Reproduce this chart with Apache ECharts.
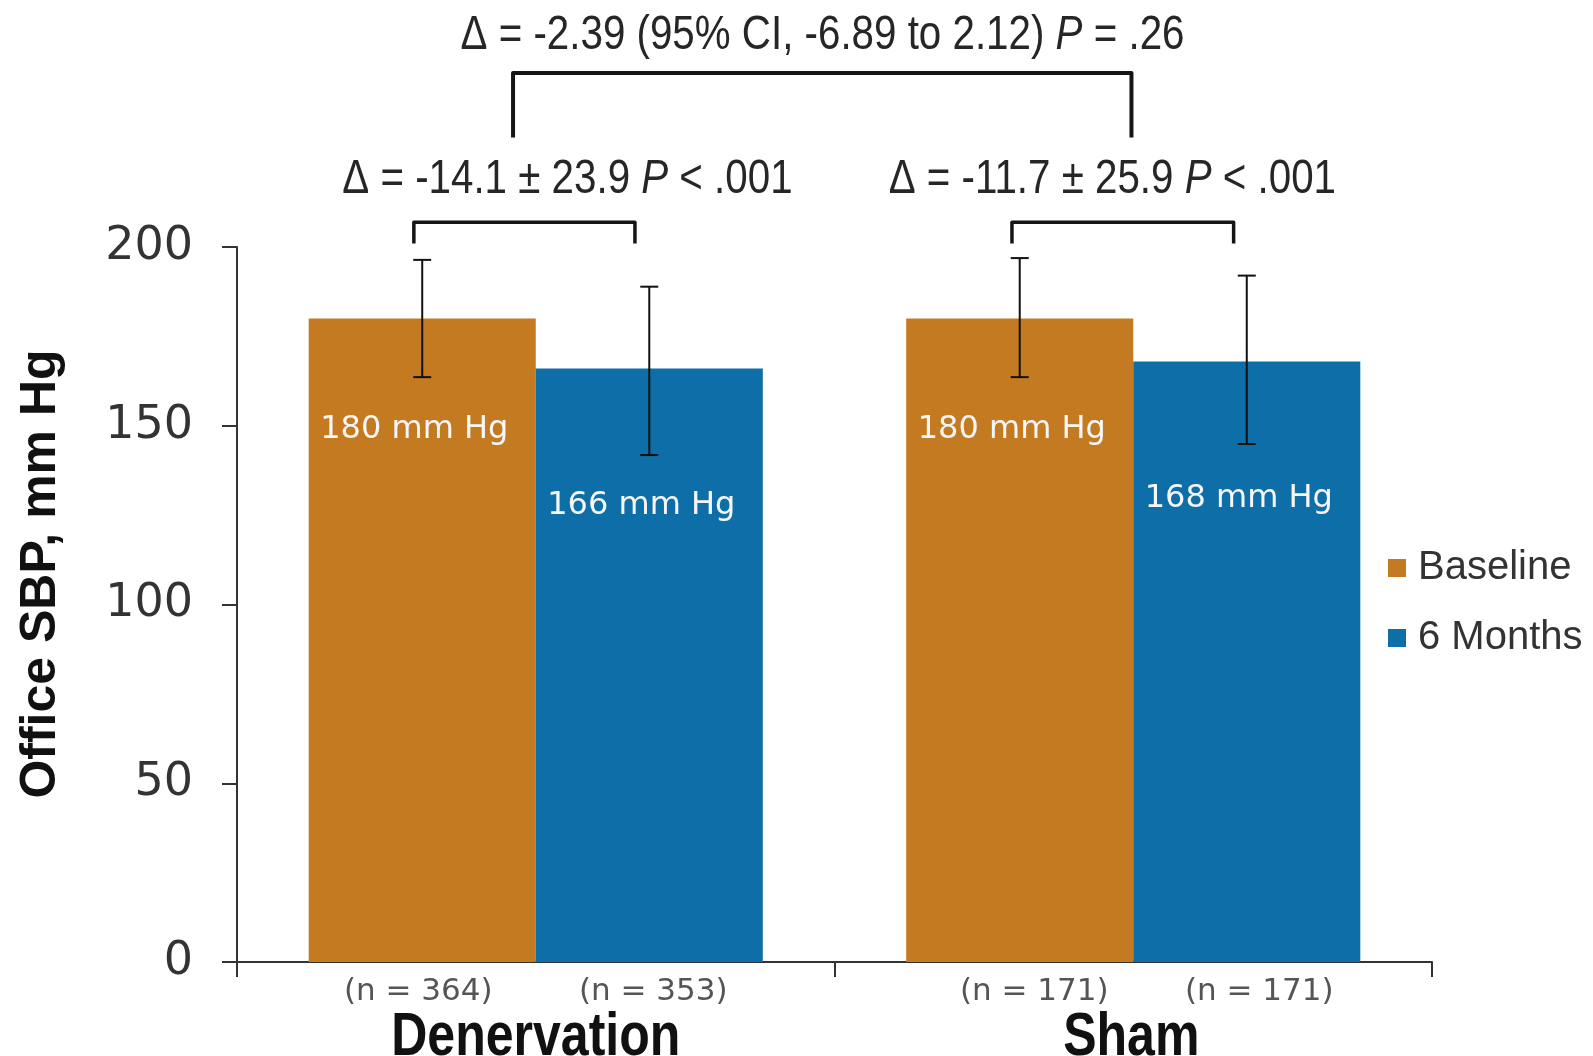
<!DOCTYPE html>
<html>
<head>
<meta charset="utf-8">
<script src="https://cdn.jsdelivr.net/npm/echarts@6/dist/echarts.min.js"></script>
<style>
html,body{margin:0;padding:0;background:#fff;}
#c{width:1593px;height:1056px;}
</style>
</head>
<body>
<div id="c"></div>
<script>
// ---- data ----
const categories = ['Denervation', 'Sham'];
const seriesNames = ['Baseline', '6 Months'];
const baselineValues = [180, 180];
const monthValues = [166, 168];
const baselineErrLow = [163.6, 163.6];
const baselineErrHigh = [196.4, 196.9];
const monthErrLow = [141.8, 144.9];
const monthErrHigh = [188.9, 192.0];
const baselineN = [364, 171];
const monthN = [353, 171];
const yTicks = [0, 50, 100, 150, 200];
const groupDiffText = ['Δ = -14.1 ± 23.9 ', ' < .001'];
const groupDiffText2 = ['Δ = -11.7 ± 25.9 ', ' < .001'];
const overallDiffText = ['Δ = -2.39 (95% CI, -6.89 to 2.12) ', ' = .26'];
const yAxisTitle = 'Office SBP, mm Hg';

// ---- styles ----
const ORANGE = '#C47A20';
const BLUE = '#0E6EA8';
const AXIS = '#333333';
const SANS = "'Liberation Sans', Arial, sans-serif";
const WIDE = "'DejaVu Sans', Verdana, sans-serif";
const NARROW_SCALE = 0.84;

const chart = echarts.init(document.getElementById('c'), null, {renderer: 'canvas'});

function errItem(offsetFrac) {
  return function (params, api) {
    const idx = api.value(0);
    const lo = api.value(1);
    const hi = api.value(2);
    const band = api.size([1, 0])[0];
    const pHi = api.coord([idx, hi]);
    const pLo = api.coord([idx, lo]);
    const x = pHi[0] + offsetFrac * band;
    const cap = 9;
    const st = {stroke: '#111', lineWidth: 2};
    return {
      type: 'group',
      children: [
        {type: 'line', shape: {x1: x, y1: pHi[1], x2: x, y2: pLo[1]}, style: st},
        {type: 'line', shape: {x1: x - cap, y1: pHi[1], x2: x + cap, y2: pHi[1]}, style: st},
        {type: 'line', shape: {x1: x - cap, y1: pLo[1], x2: x + cap, y2: pLo[1]}, style: st}
      ]
    };
  };
}

const barLabel = (dy) => ({
  show: true,
  position: ['46.5%', dy],
  align: 'center',
  verticalAlign: 'middle',
  formatter: '{c} mm Hg',
  color: '#f6f6f6',
  fontFamily: WIDE,
  fontSize: 32
});

const option = {
  backgroundColor: '#fff',
  animation: false,
  grid: {left: 237, right: 161, top: 247, bottom: 94, containLabel: false, outerBoundsMode: 'none'},
  legend: {
    data: seriesNames,
    orient: 'vertical',
    left: 1383,
    top: 543,
    itemWidth: 18,
    itemHeight: 18,
    itemGap: 30,
    icon: 'rect',
    textStyle: {fontSize: 40, color: '#333', fontFamily: SANS, lineHeight: 40, padding: [0, 0, 0, 7]}
  },
  xAxis: {
    type: 'category',
    data: categories,
    axisLine: {show: true, lineStyle: {color: AXIS, width: 2}},
    axisTick: {show: true, length: 15, lineStyle: {color: AXIS, width: 2}},
    axisLabel: {
      margin: 12,
      interval: 0,
      formatter: function (value, idx) {
        if (idx === 0) {
          return '{n1|(n = ' + baselineN[idx] + ')}{n1|(n = ' + monthN[idx] + ')}';
        }
        return '{sp|}{n2|(n = ' + baselineN[idx] + ')}{n2|(n = ' + monthN[idx] + ')}';
      },
      rich: {
        n1: {width: 235, align: 'center', fontSize: 31, fontFamily: WIDE, color: '#555', lineHeight: 36},
        n2: {width: 225, align: 'center', fontSize: 31, fontFamily: WIDE, color: '#555', lineHeight: 36},
        sp: {width: 27, lineHeight: 36}
      }
    }
  },
  yAxis: {
    type: 'value',
    min: 0,
    max: 200,
    interval: 50,
    axisLine: {show: true, lineStyle: {color: AXIS, width: 2}},
    axisTick: {show: true, length: 15, lineStyle: {color: AXIS, width: 2}},
    splitLine: {show: false},
    axisLabel: {
      margin: 44,
      fontSize: 46,
      fontFamily: WIDE,
      color: '#333',
      formatter: function (v) { return yTicks.indexOf(v) >= 0 ? String(v) : ''; }
    }
  },
  series: [
    {
      name: seriesNames[0],
      type: 'bar',
      data: baselineValues,
      barWidth: '38%',
      barGap: '0%',
      itemStyle: {color: ORANGE},
      label: barLabel(111)
    },
    {
      name: seriesNames[1],
      type: 'bar',
      data: monthValues,
      barWidth: '38%',
      barGap: '0%',
      itemStyle: {color: BLUE},
      label: barLabel(137)
    },
    {
      type: 'custom',
      name: 'errBase',
      renderItem: errItem(-0.19),
      data: categories.map((c, i) => [i, baselineErrLow[i], baselineErrHigh[i]]),
      encode: {x: 0, y: [1, 2]},
      z: 10,
      silent: true
    },
    {
      type: 'custom',
      name: 'errMonth',
      renderItem: errItem(0.19),
      data: categories.map((c, i) => [i, monthErrLow[i], monthErrHigh[i]]),
      encode: {x: 0, y: [1, 2]},
      z: 10,
      silent: true
    }
  ]
};

chart.setOption(option);

// ---- annotations (brackets and texts), positioned through the axes ----
function px(cat, val) { return chart.convertToPixel({gridIndex: 0}, [cat, val]); }
const c0 = px(0, 200)[0];
const c1 = px(1, 200)[0];
const band = c1 - c0;
const yv = (v) => px(0, v)[1];
const yZero = yv(0);

function bracket(xl, xr, yTop, yBot, w) {
  return {
    type: 'polyline',
    shape: {points: [[xl, yBot], [xl, yTop], [xr, yTop], [xr, yBot]]},
    style: {stroke: '#151515', lineWidth: w, fill: null, lineJoin: 'round', lineCap: 'butt'},
    z: 20
  };
}
function annText(parts, x, y) {
  return {
    type: 'text',
    x: x, y: y,
    scaleX: NARROW_SCALE,
    style: {
      text: '{a|' + parts[0] + '}{i|P}{a|' + parts[1] + '}',
      align: 'center',
      verticalAlign: 'middle',
      rich: {
        a: {fontSize: 48, fontFamily: SANS, fill: '#262626'},
        i: {fontSize: 48, fontFamily: SANS, fontStyle: 'italic', fill: '#262626'}
      }
    },
    z: 20
  };
}
function catText(name, x) {
  return {
    type: 'text',
    x: x, y: yZero + 76,
    scaleX: 0.82,
    style: {
      text: name,
      align: 'center',
      verticalAlign: 'middle',
      fontSize: 61,
      fontWeight: 'bold',
      fontFamily: SANS,
      fill: '#111'
    },
    z: 20
  };
}

chart.setOption({
  graphic: [
    bracket(c0 - 0.204 * band, c0 + 0.166 * band, yv(206.9), yv(201), 3.5),
    bracket(c1 - 0.203 * band, c1 + 0.168 * band, yv(206.9), yv(201), 3.5),
    bracket(c0 - 0.038 * band, c1 - 0.003 * band, yv(248.7), yv(230.6), 4),
    annText(groupDiffText, c0 + 0.053 * band, yv(218.8)),
    annText(groupDiffText2, c1 - 0.035 * band, yv(218.8)),
    annText(overallDiffText, (c0 + c1) / 2 - 12, yv(259.1)),
    catText(categories[0], c0),
    catText(categories[1], c1 - 2),
    {
      type: 'text',
      x: 41, y: 574,
      rotation: Math.PI / 2,
      style: {
        text: yAxisTitle,
        align: 'center',
        verticalAlign: 'middle',
        fontSize: 50,
        fontWeight: 'bold',
        fontFamily: SANS,
        fill: '#111'
      },
      z: 20
    }
  ]
});
</script>
</body>
</html>
